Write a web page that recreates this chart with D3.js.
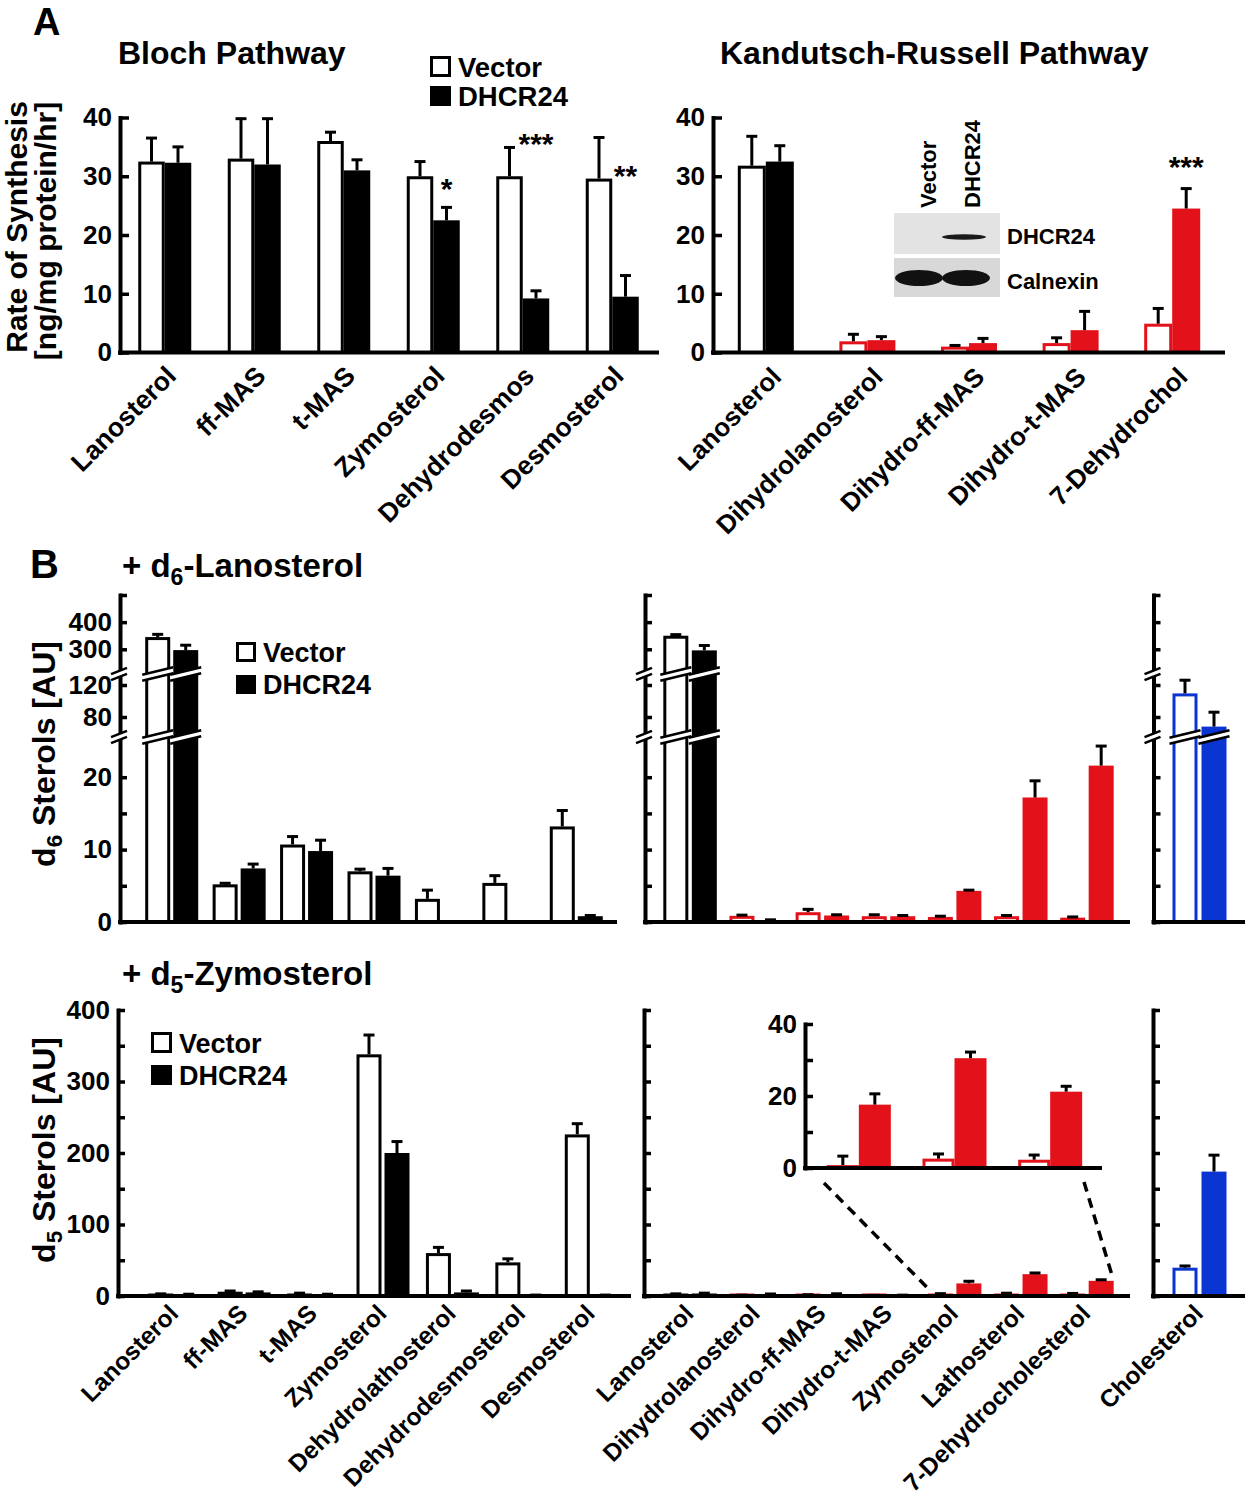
<!DOCTYPE html>
<html lang="en">
<head>
<meta charset="UTF-8">
<title>DHCR24 sterol synthesis</title>
<script src="https://d3js.org/d3.v7.min.js"></script>
<style>
  body { margin: 0; background: #fff; }
  svg { display: block; background: #fff; font-family: "Liberation Sans", Arial, Helvetica, sans-serif; font-weight: bold; }
  text { font-weight: bold; }
</style>
</head>
<body>
<svg width="1245" height="1500"></svg>
<script>
// ---------- data ----------
const series = ["Vector", "DHCR24"];

// A: rate of synthesis [ng/mg protein/hr]
const blochCats = ["Lanosterol", "ff-MAS", "t-MAS", "Zymosterol", "Dehydrodesmos", "Desmosterol"];
const blochVector = [32.5, 33.0, 36.0, 30.0, 30.0, 29.6];
const blochVectorErr = [4.0, 6.8, 1.5, 2.5, 4.9, 7.0];
const blochDhcr = [32.3, 32.0, 31.0, 22.5, 9.2, 9.5];
const blochDhcrErr = [2.7, 7.8, 1.8, 2.2, 1.3, 3.6];

const krCats = ["Lanosterol", "Dihydrolanosterol", "Dihydro-ff-MAS", "Dihydro-t-MAS", "7-Dehydrochol"];
const krVector = [31.8, 1.9, 1.0, 1.6, 4.9];
const krVectorErr = [5.0, 1.2, 0.2, 0.9, 2.6];
const krDhcr = [32.5, 2.1, 1.6, 3.8, 24.5];
const krDhcrErr = [2.7, 0.6, 0.8, 3.2, 3.4];

const rateTicks = [0, 10, 20, 30, 40];

const stars = [
  { panel: "bloch", cat: "Zymosterol", text: "*", level: 29 },
  { panel: "bloch", cat: "Dehydrodesmos", text: "***", level: 36.6 },
  { panel: "bloch", cat: "Desmosterol", text: "**", level: 31.3 },
  { panel: "kr", cat: "7-Dehydrochol", text: "***", level: 32.7 }
];

// B: labelled sterols [AU]
const bBlochCats = ["Lanosterol", "ff-MAS", "t-MAS", "Zymosterol", "Dehydrolathosterol", "Dehydrodesmosterol", "Desmosterol"];
const bKrCats = ["Lanosterol", "Dihydrolanosterol", "Dihydro-ff-MAS", "Dihydro-t-MAS", "Zymostenol", "Lathosterol", "7-Dehydrocholesterol"];
const bCholCats = ["Cholesterol"];

// + d6-lanosterol
const d6BlochVector = [345, 5.2, 10.7, 7.0, 3.2, 5.4, 13.2];
const d6BlochVectorErr = [10, 0.15, 1.1, 0.3, 1.2, 1.0, 2.2];
const d6BlochDhcr = [297, 7.4, 9.8, 6.4, 0.15, 0.05, 0.8];
const d6BlochDhcrErr = [18, 0.6, 1.5, 1.0, 0, 0, 0.1];
const d6KrVector = [350, 0.85, 1.35, 0.8, 0.7, 0.8, 0.6];
const d6KrVectorErr = [4, 0.1, 0.4, 0.2, 0.1, 0.1, 0.1];
const d6KrDhcr = [296, 0.2, 0.9, 0.8, 4.3, 17.2, 21.6];
const d6KrDhcrErr = [18, 0.1, 0.1, 0.1, 0.1, 2.3, 2.7];
const d6CholVector = [109.5];
const d6CholVectorErr = [16.5];
const d6CholDhcr = [68];
const d6CholDhcrErr = [18];
const d6Ticks = [0, 5, 10, 15, 20, 80, 120, 300, 400, 500];
const d6Labels = [0, 10, 20, 80, 120, 300, 400];

// + d5-zymosterol
const d5BlochVector = [2.5, 6.0, 3.5, 338, 60, 47, 226];
const d5BlochVectorErr = [0.5, 1.0, 0.5, 27, 8, 5, 15];
const d5BlochDhcr = [2.0, 5.0, 2.0, 200, 5, 1.0, 1.0];
const d5BlochDhcrErr = [0.5, 0.8, 0.5, 16, 2, 0.3, 0.3];
const d5KrVector = [2.5, 1.0, 1.5, 0.7, 0.8, 2.6, 2.3];
const d5KrVectorErr = [0.5, 0.2, 0.3, 0.2, 2.5, 1.3, 1.3];
const d5KrDhcr = [3.5, 2.5, 2.8, 1.0, 17.6, 30.5, 21.2];
const d5KrDhcrErr = [0.5, 0.3, 0.3, 0.2, 3.0, 1.7, 1.5];
const d5CholVector = [39.6];
const d5CholVectorErr = [2.4];
const d5CholDhcr = [174];
const d5CholDhcrErr = [23];
const d5Ticks = [0, 50, 100, 150, 200, 250, 300, 350, 400];
const d5Labels = [0, 100, 200, 300, 400];

const insetCats = ["Zymostenol", "Lathosterol", "7-Dehydrocholesterol"];
const insetTicks = [0, 10, 20, 30, 40];
const insetLabels = [0, 20, 40];

// ---------- drawing ----------
const svg = d3.select("svg");
const FONT = "'Liberation Sans', Arial, Helvetica, sans-serif";
const RED = "#e3121a", BLUE = "#0a35d2";

const blackColor = () => "#000";
const krColor = c => c === "Lanosterol" ? "#000" : RED;
const cholColor = () => BLUE;

function yAxis(x, y, ticks, labels, fs = 26, tick = 9) {
  const ax = d3.axisLeft(y).tickValues(ticks).tickSizeInner(-tick).tickSizeOuter(0)
    .tickPadding(8).tickFormat(d => labels.includes(d) ? d : "");
  const a = svg.append("g").attr("transform", `translate(${x},0)`).call(ax);
  a.select(".domain").attr("stroke-width", 4).attr("stroke-linecap", "square");
  a.selectAll(".tick line").attr("stroke-width", 3.5);
  a.selectAll("text").style("font-size", fs + "px").style("font-family", FONT)
    .style("font-weight", "bold").attr("fill", "#000");
  return a;
}

function xLine(x1, x2, y0) {
  svg.append("line").attr("x1", x1).attr("x2", x2).attr("y1", y0).attr("y2", y0)
    .attr("stroke", "#000").attr("stroke-width", 4).attr("stroke-linecap", "square");
}

function breakMark(xa, xb, yc, slope, gapH) {
  const s = (xb - xa) * slope;
  const t1 = [xa, yc - gapH / 2 + s / 2], t2 = [xb, yc - gapH / 2 - s / 2];
  const b1 = [xa, yc + gapH / 2 + s / 2], b2 = [xb, yc + gapH / 2 - s / 2];
  svg.append("polygon").attr("points", [t1, t2, b2, b1].map(p => p.join(",")).join(" ")).attr("fill", "#fff");
  [[t1, t2], [b1, b2]].forEach(([p, q]) => svg.append("line")
    .attr("x1", p[0]).attr("y1", p[1]).attr("x2", q[0]).attr("y2", q[1])
    .attr("stroke", "#000").attr("stroke-width", 2.5));
}

function drawBars(cfg) {
  const { cats, vals, errs, x0, y, w, gap, color } = cfg;
  const x1 = d3.scaleBand().domain(series).range([-(w + gap / 2), w + gap / 2]).paddingInner(gap / (w + gap));
  const rows = [];
  cats.forEach((c, i) => series.forEach((s, j) => rows.push({ cat: c, s, v: vals[j][i], e: errs[j][i] })));
  const y0 = y(0);
  const bx = d => x0(d.cat) + x0.bandwidth() / 2 + x1(d.s);
  const g = svg.append("g");
  rows.forEach(d => {
    const x = bx(d), top = y(d.v);
    if (d.s === "Vector") {
      const t = Math.min(top + 1.5, y0 - 1);
      g.append("rect").attr("x", x + 1.5).attr("y", t).attr("width", w - 3).attr("height", y0 - t)
        .attr("fill", "#fff").attr("stroke", color(d.cat)).attr("stroke-width", 3);
    } else {
      g.append("rect").attr("x", x).attr("y", top).attr("width", w).attr("height", Math.max(0, y0 - top))
        .attr("fill", color(d.cat));
    }
    if (d.e > 0) {
      const cx = x + w / 2, et = y(d.v + d.e);
      g.append("line").attr("x1", cx).attr("x2", cx).attr("y1", top).attr("y2", et)
        .attr("stroke", "#000").attr("stroke-width", 3);
      g.append("line").attr("x1", cx - 5.5).attr("x2", cx + 5.5).attr("y1", et).attr("y2", et)
        .attr("stroke", "#000").attr("stroke-width", 3);
    }
  });
  if (cfg.breaks) {
    rows.forEach(d => cfg.breaks.forEach(b => {
      if (d.v > b.lo) breakMark(bx(d) - 3, bx(d) + w + 3, b.yc, 0.24, 6);
    }));
  }
  return { x1, bx };
}

function xLabels(cats, x0, y0, dx, dy, fs) {
  svg.append("g").selectAll("text").data(cats).join("text")
    .attr("transform", d => `translate(${x0(d) + x0.bandwidth() / 2 + dx},${y0 + dy}) rotate(-45)`)
    .attr("text-anchor", "end").attr("font-size", fs).attr("font-family", FONT)
    .attr("font-weight", "bold").text(d => d);
}

function legend(x, y, fs, sq, step) {
  series.forEach((s, i) => {
    const yy = y + i * step;
    if (i === 0) {
      svg.append("rect").attr("x", x + 1.5).attr("y", yy - sq + 1.5).attr("width", sq - 3).attr("height", sq - 3)
        .attr("fill", "#fff").attr("stroke", "#000").attr("stroke-width", 3);
    } else {
      svg.append("rect").attr("x", x).attr("y", yy - sq + 1).attr("width", sq).attr("height", sq - 1).attr("fill", "#000");
    }
    svg.append("text").attr("x", x + sq + 7).attr("y", yy).attr("font-size", fs)
      .attr("font-family", FONT).attr("font-weight", "bold").text(s);
  });
}

function label(x, y, txt, fs, anchor = "start") {
  return svg.append("text").attr("x", x).attr("y", y).attr("font-size", fs)
    .attr("font-family", FONT).attr("font-weight", "bold").attr("text-anchor", anchor).text(txt);
}

// ===== Panel A =====
label(33, 34.5, "A", 38);
label(118, 64, "Bloch Pathway", 32);
label(720, 64, "Kandutsch-Russell Pathway", 32);

svg.append("text").attr("transform", "translate(27,227) rotate(-90)").attr("text-anchor", "middle")
  .attr("font-size", 30).attr("font-family", FONT).attr("font-weight", "bold").text("Rate of Synthesis");
svg.append("text").attr("transform", "translate(56,231) rotate(-90)").attr("text-anchor", "middle")
  .attr("font-size", 30).attr("font-family", FONT).attr("font-weight", "bold").text("[ng/mg protein/hr]");

const yA = d3.scaleLinear().domain([0, 40]).range([352.5, 117.5]);

const xBloch = d3.scaleBand().domain(blochCats).range([120, 657]);
drawBars({ cats: blochCats, vals: [blochVector, blochDhcr], errs: [blochVectorErr, blochDhcrErr],
  x0: xBloch, y: yA, w: 26.5, gap: 0, color: blackColor });
xLine(120, 657, yA(0));
yAxis(120, yA, rateTicks, rateTicks);
xLabels(blochCats, xBloch, yA(0), 13, 25, 26.5);

const xKr = d3.scaleBand().domain(krCats).range([715, 1223]);
drawBars({ cats: krCats, vals: [krVector, krDhcr], errs: [krVectorErr, krDhcrErr],
  x0: xKr, y: yA, w: 28, gap: 0, color: krColor });
xLine(713, 1223, yA(0));
yAxis(713, yA, rateTicks, rateTicks);
xLabels(krCats, xKr, yA(0), 17, 26, 26);

legend(430, 77, 27.5, 21, 29);

// significance marks sit over the DHCR24 bar
stars.forEach(s => {
  const xs = s.panel === "bloch" ? xBloch : xKr;
  const w = s.panel === "bloch" ? 26.5 : 28;
  label(xs(s.cat) + xs.bandwidth() / 2 + w / 2, yA(s.level) + 17, s.text, 30, "middle");
});

// western blot inset
svg.append("rect").attr("x", 894).attr("y", 213).attr("width", 106).attr("height", 41).attr("fill", "#e3e3e3");
svg.append("rect").attr("x", 894).attr("y", 258).attr("width", 106).attr("height", 39).attr("fill", "#d8d8d8");
svg.append("ellipse").attr("cx", 964).attr("cy", 237).attr("rx", 22).attr("ry", 2.8).attr("fill", "#1a1a1a");
svg.append("ellipse").attr("cx", 919).attr("cy", 278).attr("rx", 24).attr("ry", 8).attr("fill", "#111");
svg.append("ellipse").attr("cx", 966).attr("cy", 278).attr("rx", 24).attr("ry", 8).attr("fill", "#111");
series.forEach((s, i) => {
  svg.append("text").attr("transform", `translate(${936 + i * 44},208) rotate(-90)`)
    .attr("font-size", 22).attr("font-family", FONT).attr("font-weight", "bold").text(s);
});
label(1007, 244, "DHCR24", 22);
label(1007, 289, "Calnexin", 22);

// ===== Panel B =====
label(30, 578, "B", 40);

function subTitle(x, y, pre, sub, post, fs) {
  const t = svg.append("text").attr("x", x).attr("y", y).attr("font-size", fs)
    .attr("font-family", FONT).attr("font-weight", "bold");
  t.append("tspan").text(pre);
  t.append("tspan").attr("dy", 8).attr("font-size", fs * 0.7).text(sub);
  t.append("tspan").attr("dy", -8).text(post);
  return t;
}
function subYLabel(x, y, pre, sub, post, fs) {
  const t = svg.append("text").attr("transform", `translate(${x},${y}) rotate(-90)`).attr("text-anchor", "middle")
    .attr("font-size", fs).attr("font-family", FONT).attr("font-weight", "bold");
  t.append("tspan").text(pre);
  t.append("tspan").attr("dy", 7).attr("font-size", fs * 0.7).text(sub);
  t.append("tspan").attr("dy", -7).text(post);
}

subTitle(122, 577, "+ d", "6", "-Lanosterol", 33);
subTitle(122, 985, "+ d", "5", "-Zymosterol", 33);
subYLabel(55, 754, "d", "6", " Sterols [AU]", 32);
subYLabel(55, 1150, "d", "5", " Sterols [AU]", 32);

// top row: broken axis 0-25 | 60-130 | 220-500
const yTop = d3.scaleLinear().domain([0, 25, 60, 130, 220, 500]).range([922, 741, 733, 677, 671, 595]);
const topBreaks = [
  { lo: 25, yc: (yTop(25) + yTop(60)) / 2 },
  { lo: 130, yc: (yTop(130) + yTop(220)) / 2 }
];

const xTopBloch = d3.scaleBand().domain(bBlochCats).range([138, 610]);
const xKrB = d3.scaleBand().domain(bKrCats).range([657, 1120]);
const xChol = d3.scaleBand().domain(bCholCats).range([1166, 1233]);

drawBars({ cats: bBlochCats, vals: [d6BlochVector, d6BlochDhcr], errs: [d6BlochVectorErr, d6BlochDhcrErr],
  x0: xTopBloch, y: yTop, w: 25, gap: 3, color: blackColor, breaks: topBreaks });
drawBars({ cats: bKrCats, vals: [d6KrVector, d6KrDhcr], errs: [d6KrVectorErr, d6KrDhcrErr],
  x0: xKrB, y: yTop, w: 25, gap: 3.5, color: krColor, breaks: topBreaks });
drawBars({ cats: bCholCats, vals: [d6CholVector, d6CholDhcr], errs: [d6CholVectorErr, d6CholDhcrErr],
  x0: xChol, y: yTop, w: 25, gap: 4, color: cholColor, breaks: topBreaks });

[[120, 615, d6Labels], [645, 1128, []], [1153.5, 1245, []]].forEach(([ax, xe, labs]) => {
  xLine(ax, xe, yTop(0));
  yAxis(ax, yTop, d6Ticks, labs, 26, 7);
  topBreaks.forEach(b => breakMark(ax - 9, ax + 7, b.yc, 0.4, 6));
});
legend(236, 662, 27, 20, 32);

// bottom row
const yBot = d3.scaleLinear().domain([0, 400]).range([1296, 1010]);
const xBotBloch = d3.scaleBand().domain(bBlochCats).range([140, 626]);

drawBars({ cats: bBlochCats, vals: [d5BlochVector, d5BlochDhcr], errs: [d5BlochVectorErr, d5BlochDhcrErr],
  x0: xBotBloch, y: yBot, w: 25, gap: 3, color: blackColor });
drawBars({ cats: bKrCats, vals: [d5KrVector, d5KrDhcr], errs: [d5KrVectorErr, d5KrDhcrErr],
  x0: xKrB, y: yBot, w: 25, gap: 3.5, color: krColor });
drawBars({ cats: bCholCats, vals: [d5CholVector, d5CholDhcr], errs: [d5CholVectorErr, d5CholDhcrErr],
  x0: xChol, y: yBot, w: 25, gap: 4, color: cholColor });

[[118, 629, d5Labels], [644, 1128, []], [1153, 1245, []]].forEach(([ax, xe, labs]) => {
  xLine(ax, xe, yBot(0));
  yAxis(ax, yBot, d5Ticks, labs, 26, 7);
});
legend(151, 1053, 27, 21, 32);

xLabels(bBlochCats, xBotBloch, yBot(0), 5, 19, 24.5);
xLabels(bKrCats, xKrB, yBot(0), 5, 19, 24.5);
xLabels(bCholCats, xChol, yBot(0), 5, 19, 24.5);

// zoomed inset of the last three KR sterols
const yIn = d3.scaleLinear().domain([0, 40]).range([1168, 1024]);
const xIn = d3.scaleBand().domain(insetCats).range([811, 1098]);
const pick = (arr) => insetCats.map(c => arr[bKrCats.indexOf(c)]);
drawBars({ cats: insetCats, vals: [pick(d5KrVector), pick(d5KrDhcr)], errs: [pick(d5KrVectorErr), pick(d5KrDhcrErr)],
  x0: xIn, y: yIn, w: 32, gap: 0, color: () => RED });
xLine(805, 1100, yIn(0));
yAxis(805, yIn, insetTicks, insetLabels, 26, 8);

const firstIn = insetCats[0], lastIn = insetCats[insetCats.length - 1];
const dash = (x1, y1, x2, y2) => svg.append("line").attr("x1", x1).attr("y1", y1).attr("x2", x2).attr("y2", y2)
  .attr("stroke", "#000").attr("stroke-width", 3.5).attr("stroke-dasharray", "10,7");
dash(xIn(firstIn) + 13, yIn(0) + 15, xKrB(firstIn) + xKrB.bandwidth() / 2 - 27, yBot(0) - 8);
dash(xIn(lastIn) + xIn.step() - 14, yIn(0) + 14, xKrB(lastIn) + xKrB.bandwidth() / 2 + 25, yBot(0) - 21);
</script>
</body>
</html>
